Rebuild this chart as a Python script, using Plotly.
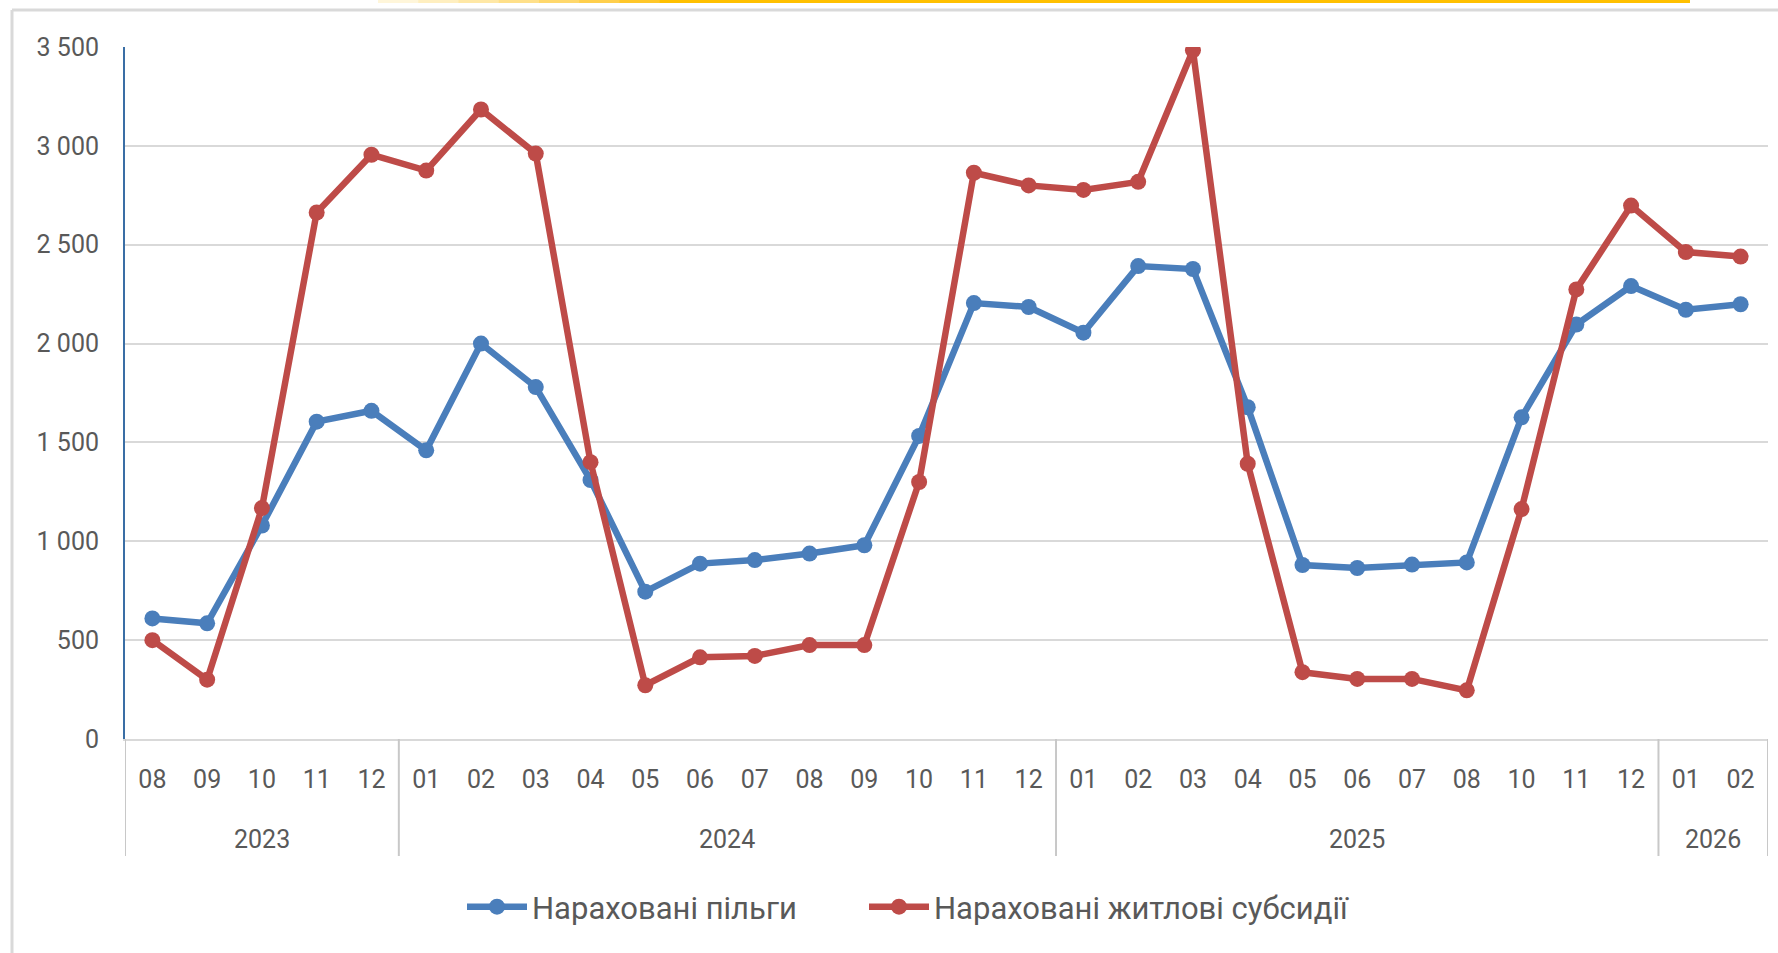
import plotly.graph_objects as go

# ---- data ----
years = ["2023", "2024", "2025", "2026"]
months_2023 = ["08", "09", "10", "11", "12"]
months_2024 = ["01", "02", "03", "04", "05", "06", "07", "08", "09", "10", "11", "12"]
months_2025 = ["01", "02", "03", "04", "05", "06", "07", "08", "10", "11", "12"]
months_2026 = ["01", "02"]

pilgy = [610, 585, 1080, 1605, 1660,
         1460, 2000, 1780, 1310, 745, 887, 905, 938, 980, 1533, 2205, 2185,
         2055, 2392, 2377, 1678, 880, 865, 882, 893, 1627, 2096, 2291,
         2171, 2199]
subsydii = [500, 300, 1168, 2663, 2955,
            2875, 3184, 2961, 1400, 272, 413, 420, 475, 475, 1300, 2864, 2800,
            2777, 2818, 3483, 1392, 338, 304, 304, 246, 1163, 2274, 2698,
            2463, 2440]

series_names = ["Нараховані пільги", "Нараховані житлові субсидії"]
series_colors = ["#4A7EBB", "#BE4B48"]

# ---- build the two-level category axis ----
month_groups = [months_2023, months_2024, months_2025, months_2026]
x_keys = []
x_month = []
group_bounds = []  # (start index, end index) per year
for y, ms in zip(years, month_groups):
    start = len(x_keys)
    for m in ms:
        x_keys.append(f"{y}-{m}")
        x_month.append(m)
    group_bounds.append((start, len(x_keys) - 1))

W, H = 1778, 953
L, R, T, B = 125, 10, 47, 214
pw = W - L - R
ph = H - T - B


def px_x(px):
    return (px - L) / pw


def px_y(py):
    return (H - B - py) / ph


TXT = "#595959"
FONT = "Roboto, 'Open Sans', sans-serif"
TICK_SIZE = 25

fig = go.Figure()
legend_ids = ["legend", "legend2"]
for name, vals, col, lg in zip(series_names, [pilgy, subsydii], series_colors, legend_ids):
    fig.add_trace(go.Scatter(
        x=x_keys, y=vals, name=name, mode="lines+markers",
        line=dict(color=col, width=6.5),
        marker=dict(color=col, size=16),
        legend=lg,
    ))

shapes = []
annotations = []
# year group dividers and labels under the month labels
div_color = "#C8C8C8"
for (s, e), y in zip(group_bounds, years):
    shapes.append(dict(type="line", xref="x", yref="paper", x0=s - 0.5, x1=s - 0.5,
                       y0=0, y1=px_y(856), line=dict(color=div_color, width=2)))
    annotations.append(dict(x=(s + e) / 2, xref="x", y=px_y(839), yref="paper",
                            text=y, showarrow=False, yanchor="middle",
                            font=dict(family=FONT, size=TICK_SIZE, color=TXT)))
last = group_bounds[-1][1]
shapes.append(dict(type="line", xref="x", yref="paper", x0=last + 0.5, x1=last + 0.5,
                   y0=0, y1=px_y(856), line=dict(color=div_color, width=2)))

# chart frame (top and left edges)
shapes.append(dict(type="line", xref="paper", yref="paper",
                   x0=px_x(12), x1=px_x(W), y0=px_y(10), y1=px_y(10),
                   line=dict(color="#D9D9D9", width=3), layer="below"))
shapes.append(dict(type="line", xref="paper", yref="paper",
                   x0=px_x(12), x1=px_x(12), y0=px_y(10), y1=px_y(H),
                   line=dict(color="#D9D9D9", width=3), layer="below"))
# yellow strip at the very top (approximate gradient)
grad = ["#FFF6DA", "#FFEFC0", "#FFE8A6", "#FFE08A", "#FFD86C", "#FFCF4C", "#FFC72A", "#FFC000"]
x_start, x_mid, x_end = 378, 700, 1690
step = (x_mid - x_start) / len(grad)
for i, c in enumerate(grad):
    shapes.append(dict(type="rect", xref="paper", yref="paper",
                       x0=px_x(x_start + i * step), x1=px_x(x_start + (i + 1) * step + 1),
                       y0=px_y(3), y1=px_y(0), fillcolor=c, line=dict(width=0)))
shapes.append(dict(type="rect", xref="paper", yref="paper",
                   x0=px_x(x_mid), x1=px_x(x_end), y0=px_y(3), y1=px_y(0),
                   fillcolor="#FFC000", line=dict(width=0)))

legend_common = dict(orientation="h", xanchor="left", y=px_y(907), yanchor="middle",
                     font=dict(family=FONT, size=31, color=TXT), itemwidth=60,
                     bgcolor="rgba(0,0,0,0)")

fig.update_layout(
    width=W, height=H,
    margin=dict(l=L, r=R, t=T, b=B, autoexpand=False),
    paper_bgcolor="white", plot_bgcolor="white",
    separators=", ",
    font=dict(family=FONT, color=TXT, size=TICK_SIZE),
    showlegend=True,
    legend=dict(x=px_x(462), **legend_common),
    legend2=dict(x=px_x(864), **legend_common),
    shapes=shapes,
    annotations=annotations,
    xaxis=dict(type="category", range=[-0.5, len(x_keys) - 0.5],
               tickvals=x_keys, ticktext=x_month,
               showgrid=False, showline=True,
               linecolor="#D9D9D9", linewidth=2,
               ticks="", ticklabelstandoff=17,
               tickfont=dict(family=FONT, size=TICK_SIZE, color=TXT), fixedrange=True),
    yaxis=dict(range=[0, 3500], dtick=500, tickformat=",d",
               showgrid=True, gridcolor="#D9D9D9", gridwidth=2,
               zeroline=False, showline=True, linecolor="#3A6EA5", linewidth=2,
               ticks="", ticklabelstandoff=19,
               tickfont=dict(family=FONT, size=TICK_SIZE, color=TXT)),
)

fig.write_html("out.html", config={"displayModeBar": False},
               post_script="document.body.style.margin='0';")
